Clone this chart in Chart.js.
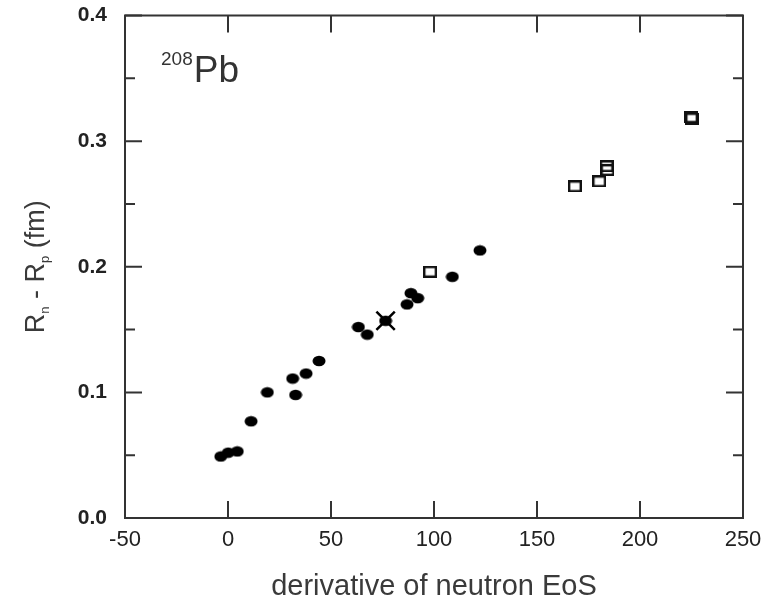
<!DOCTYPE html>
<html>
<head>
<meta charset="utf-8">
<title>208Pb neutron skin</title>
<script src="https://cdn.jsdelivr.net/npm/chart.js@4/dist/chart.umd.min.js"></script>
<style>
  html, body { margin: 0; padding: 0; background: #fff; }
  #wrap { width: 774px; height: 604px; }
</style>
</head>
<body>
<div id="wrap"><canvas id="chart" width="774" height="604"></canvas></div>
<script>
// filled circles
const circleX = [-3.5, 0.1, 4.5, 11.2, 19.1, 31.4, 32.8, 37.9, 44.2, 63.3, 67.6, 76.5, 86.9, 88.8, 92.1, 108.9, 122.3];
const circleY = [0.049, 0.052, 0.053, 0.077, 0.100, 0.111, 0.098, 0.115, 0.125, 0.152, 0.146, 0.157, 0.170, 0.179, 0.175, 0.192, 0.213];

// open squares
const squareX = [98.1, 168.4, 180.2, 183.8, 184.2, 224.8, 225.3];
const squareY = [0.196, 0.264, 0.268, 0.280, 0.277, 0.319, 0.318];

// the cross marker
const crossX = [76.5];
const crossY = [0.157];

// axes
const xTicks = [-50, 0, 50, 100, 150, 200, 250];
const yTicks = [0.0, 0.1, 0.2, 0.3, 0.4];
const yMinorTicks = [0.05, 0.15, 0.25, 0.35];

const FONT = '"Liberation Sans", Arial, sans-serif';

function toPoints(xs, ys) {
  return xs.map(function(x, i) { return { x: x, y: ys[i] }; });
}

// slightly flattened dot, like the original
function makeDot() {
  const c = document.createElement('canvas');
  c.width = 14; c.height = 12;
  const g = c.getContext('2d');
  g.fillStyle = '#000';
  g.beginPath();
  g.ellipse(7, 6, 6.5, 5.3, 0, 0, Math.PI * 2);
  g.fill();
  return c;
}

function makeSquare() {
  const c = document.createElement('canvas');
  c.width = 14; c.height = 12;
  const g = c.getContext('2d');
  g.strokeStyle = '#111';
  g.lineWidth = 2.4;
  g.strokeRect(1.2, 1.2, 11.6, 9.6);
  return c;
}

// inward ticks and the box around the plot
const frameTicks = {
  id: 'frameTicks',
  afterDatasetsDraw(chart) {
    const ctx = chart.ctx;
    const a = chart.chartArea;
    const xs = chart.scales.x, ys = chart.scales.y;
    ctx.save();
    ctx.strokeStyle = '#333';
    ctx.lineWidth = 2;
    ctx.strokeRect(a.left, a.top, a.right - a.left, a.bottom - a.top);
    ctx.beginPath();
    yTicks.concat(yMinorTicks).forEach(function(v) {
      const len = yTicks.indexOf(v) >= 0 ? 17 : 10;
      const py = ys.getPixelForValue(v);
      ctx.moveTo(a.left, py); ctx.lineTo(a.left + len, py);
      ctx.moveTo(a.right, py); ctx.lineTo(a.right - len, py);
    });
    xTicks.forEach(function(v) {
      const px = xs.getPixelForValue(v);
      ctx.moveTo(px, a.bottom); ctx.lineTo(px, a.bottom - 17);
      ctx.moveTo(px, a.top); ctx.lineTo(px, a.top + 17);
    });
    ctx.stroke();
    ctx.restore();
  },
  afterDraw(chart) {
    const ctx = chart.ctx;
    const a = chart.chartArea;
    const xs = chart.scales.x, ys = chart.scales.y;
    ctx.save();
    ctx.fillStyle = '#333';
    ctx.textBaseline = 'alphabetic';

    // 208Pb label
    const lx = xs.getPixelForValue(-32.5);
    const ly = ys.getPixelForValue(0.347);
    ctx.font = '19px ' + FONT;
    ctx.fillText('208', lx, ly - 17);
    const sw = ctx.measureText('208').width;
    ctx.font = '37px ' + FONT;
    ctx.fillText('Pb', lx + sw + 1, ly);

    // y axis title with subscripts
    const parts = [
      { t: 'R', f: 27, dy: 0 },
      { t: 'n', f: 13, dy: 5 },
      { t: ' - R', f: 27, dy: 0 },
      { t: 'p', f: 13, dy: 5 },
      { t: ' (fm)', f: 27, dy: 0 }
    ];
    let total = 0;
    parts.forEach(function(p) {
      ctx.font = p.f + 'px ' + FONT;
      p.w = ctx.measureText(p.t).width;
      total += p.w;
    });
    ctx.fillStyle = '#3a3a3a';
    ctx.translate(34, (a.top + a.bottom) / 2);
    ctx.rotate(-Math.PI / 2);
    let cx = -total / 2;
    parts.forEach(function(p) {
      ctx.font = p.f + 'px ' + FONT;
      ctx.fillText(p.t, cx, 10 + p.dy);
      cx += p.w;
    });
    ctx.restore();
  }
};

const dot = makeDot();
const square = makeSquare();

new Chart(document.getElementById('chart'), {
  type: 'scatter',
  data: {
    datasets: [
      {
        label: 'circles',
        data: toPoints(circleX, circleY),
        pointStyle: dot
      },
      {
        label: 'squares',
        data: toPoints(squareX, squareY),
        pointStyle: square
      },
      {
        label: 'cross',
        data: toPoints(crossX, crossY),
        pointStyle: 'crossRot',
        pointRadius: 13,
        borderColor: '#000',
        borderWidth: 2.5
      }
    ]
  },
  options: {
    responsive: false,
    animation: false,
    events: [],
    layout: { padding: { top: 13, right: 31, left: 0, bottom: 0 } },
    plugins: {
      legend: { display: false },
      tooltip: { enabled: false }
    },
    scales: {
      x: {
        type: 'linear',
        min: -50,
        max: 250,
        afterBuildTicks: function(s) { s.ticks = xTicks.map(function(v) { return { value: v }; }); },
        afterFit: function(s) { s.height = 86; s.paddingLeft = 0; s.paddingRight = 0; },
        grid: { display: false, drawTicks: false },
        border: { display: false },
        ticks: {
          padding: 9,
          color: '#222',
          font: { family: FONT, size: 22 },
          maxRotation: 0
        },
        title: {
          display: true,
          text: 'derivative of neutron EoS',
          color: '#3a3a3a',
          font: { family: FONT, size: 29 },
          padding: { top: 0, bottom: 0 }
        }
      },
      y: {
        type: 'linear',
        min: 0,
        max: 0.4,
        afterBuildTicks: function(s) { s.ticks = yTicks.map(function(v) { return { value: v }; }); },
        afterFit: function(s) { s.width = 125; s.paddingTop = 0; s.paddingBottom = 0; },
        grid: { display: false, drawTicks: false },
        border: { display: false },
        ticks: {
          padding: 18,
          color: '#222',
          font: { family: FONT, size: 21, weight: 'bold' },
          callback: function(v) { return v.toFixed(1); }
        }
      }
    }
  },
  plugins: [frameTicks]
});
</script>
</body>
</html>
